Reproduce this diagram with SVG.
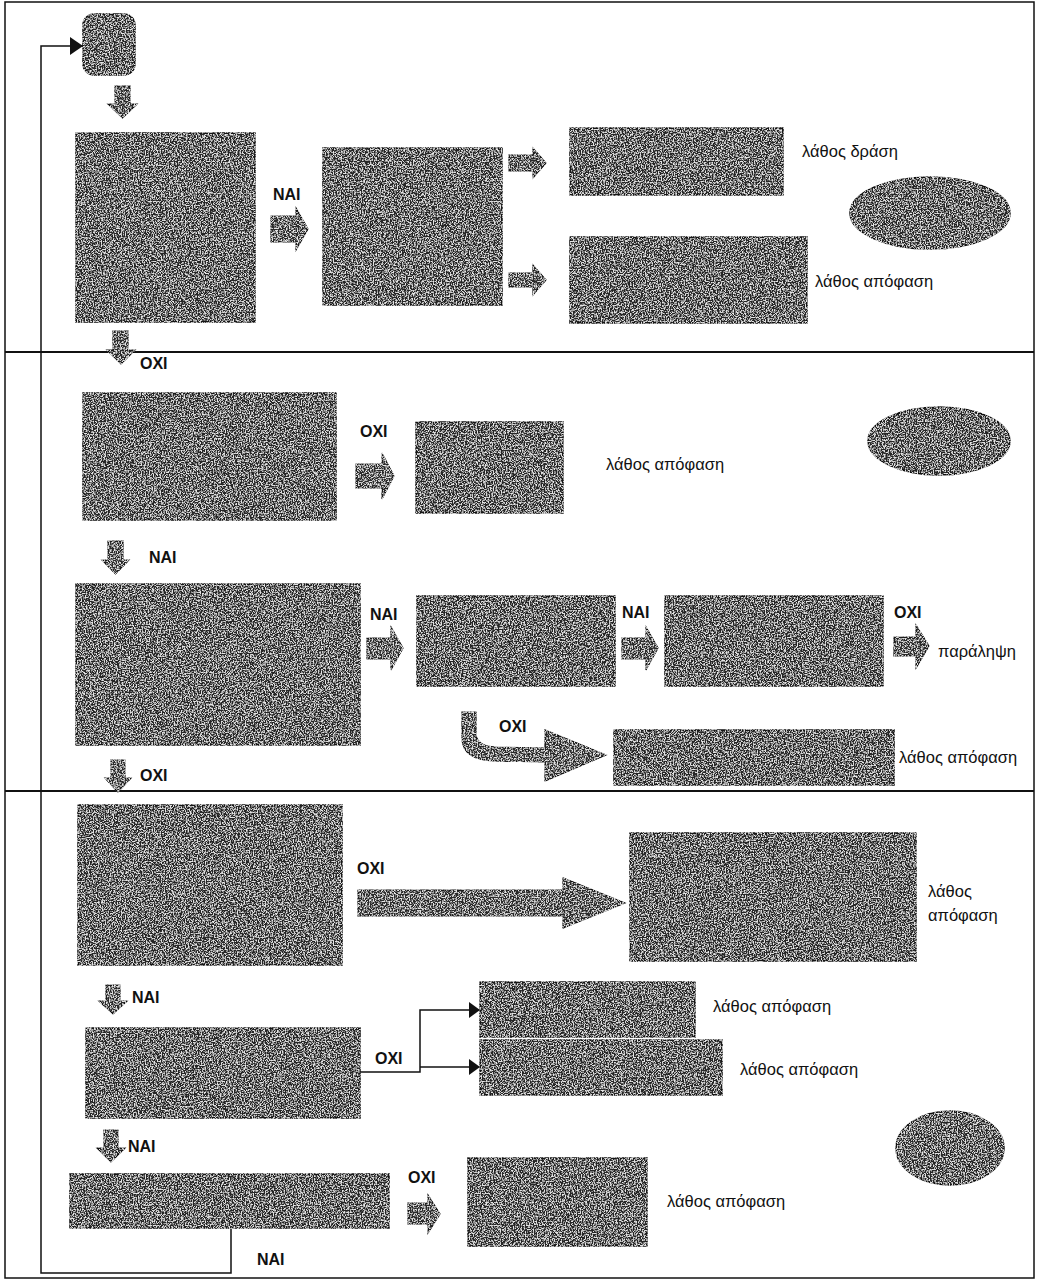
<svg xmlns="http://www.w3.org/2000/svg" width="1042" height="1282" viewBox="0 0 1042 1282">
<style>
.box{fill:#262626;stroke:#111;stroke-width:1.5;filter:url(#grain)}
.blk{fill:#2a2a2a;stroke:#111;stroke-width:1.2;filter:url(#grain)}
.lbl{font-family:"Liberation Sans",Arial,sans-serif;font-size:16.5px;fill:#111}
.yn{font-family:"Liberation Sans",Arial,sans-serif;font-size:16px;font-weight:bold;fill:#111}
.ln{fill:none;stroke:#111;stroke-width:1.5}
.div{stroke:#111;stroke-width:2}
</style>
<defs>
<filter id="grain" x="-5%" y="-5%" width="110%" height="110%">
<feTurbulence type="fractalNoise" baseFrequency="0.75" numOctaves="2" seed="4" result="t"/>
<feColorMatrix in="t" type="matrix" values="0 0 0 0 0.78  0 0 0 0 0.78  0 0 0 0 0.78  4.5 0 0 0 -2.05" result="spk"/>
<feComposite in="spk" in2="SourceAlpha" operator="in" result="spk2"/>
<feMerge><feMergeNode in="SourceGraphic"/><feMergeNode in="spk2"/></feMerge>
</filter>
<marker id="ah" markerUnits="userSpaceOnUse" markerWidth="14" markerHeight="18" refX="13" refY="9" orient="auto">
<path d="M0,0 L13,9 L0,18 Z" fill="#111"/>
</marker>
<marker id="ahs" markerUnits="userSpaceOnUse" markerWidth="12" markerHeight="16" refX="11" refY="8" orient="auto">
<path d="M0,0 L11,8 L0,16 Z" fill="#111"/>
</marker>
</defs>
<rect x="5" y="2" width="1029" height="1276" fill="#fff" stroke="#111" stroke-width="1.5"/>
<line class="div" x1="5" y1="352" x2="1034" y2="352"/>
<line class="div" x1="5" y1="791" x2="1034" y2="791"/>

<g id="connectors">
<path class="ln" d="M231,1228 V1273 H41 V46 H83" marker-end="url(#ah)"/>
<path class="ln" d="M360,1072 H420 V1010 H480" marker-end="url(#ahs)"/>
<path class="ln" d="M420,1067 H480" marker-end="url(#ahs)"/>
<path class="blk" d="M115,86 H130 V104 H137 L122.5,118 L108,104 H115 Z"/>
<path class="blk" d="M271,216 H296 V208 L308,229 L296,250 V242 H271 Z"/>
<path class="blk" d="M509,155 H533 V148 L546,163 L533,178 V171 H509 Z"/>
<path class="blk" d="M509,273 H533 V265 L546,280 L533,295 V287 H509 Z"/>
<path class="blk" d="M113,331 H128 V350 H135 L121,364 L107,350 H113 Z"/>
<path class="blk" d="M356,464 H382 V453 L394,476 L382,499 V488 H356 Z"/>
<path class="blk" d="M108,541 H123 V560 H129 L115.5,574 L102,560 H108 Z"/>
<path class="blk" d="M367,638 H391 V627 L403,648 L391,670 V659 H367 Z"/>
<path class="blk" d="M622,638 H646 V627 L658,648 L646,670 V659 H622 Z"/>
<path class="blk" d="M894,637 H916 V625 L929,646 L916,668 V656 H894 Z"/>
<path class="blk" d="M462,712 H476 V735 Q478,746 495,747 L545,748 V730 L606,755 L545,781 V762 L495,761 Q462,760 462,738 Z"/>
<path class="blk" d="M111,760 H125 V778 H131 L118,792 L105,778 H111 Z"/>
<path class="blk" d="M358,890 H563 V878 L625,903 L563,928 V916 H358 Z"/>
<path class="blk" d="M106,985 H120 V1001 H127 L113,1014 L99,1001 H106 Z"/>
<path class="blk" d="M104,1130 H118 V1148 H125 L111,1162 L97,1148 H104 Z"/>
<path class="blk" d="M408,1203 H428 V1195 L440,1214 L428,1233 V1224 H408 Z"/>
<text class="yn" x="273" y="200">NAI</text>
<text class="yn" x="140" y="369">OXI</text>
<text class="yn" x="360" y="437">OXI</text>
<text class="yn" x="149" y="563">NAI</text>
<text class="yn" x="370" y="620">NAI</text>
<text class="yn" x="622" y="618">NAI</text>
<text class="yn" x="894" y="618">OXI</text>
<text class="yn" x="499" y="732">OXI</text>
<text class="yn" x="140" y="781">OXI</text>
<text class="yn" x="357" y="874">OXI</text>
<text class="yn" x="132" y="1003">NAI</text>
<text class="yn" x="375" y="1064">OXI</text>
<text class="yn" x="128" y="1152">NAI</text>
<text class="yn" x="408" y="1183">OXI</text>
<text class="yn" x="257" y="1265">NAI</text>
</g>

<g id="n-start"><rect class="box" x="83" y="14" width="52" height="61" rx="11"/></g>
<g id="n-box1"><rect class="box" x="76" y="133" width="179" height="189"/></g>
<g id="n-box2"><rect class="box" x="323" y="148" width="179" height="157"/></g>
<g id="n-box3"><rect class="box" x="570" y="128" width="213" height="67"/><text class="lbl" x="802" y="157">λάθος δράση</text></g>
<g id="n-box4"><rect class="box" x="570" y="237" width="237" height="86"/><text class="lbl" x="815" y="287">λάθος απόφαση</text></g>
<g id="n-ell1"><ellipse class="box" cx="930" cy="213" rx="80" ry="36"/></g>

<g id="n-box5"><rect class="box" x="83" y="393" width="253" height="127"/></g>
<g id="n-box6"><rect class="box" x="416" y="422" width="147" height="91"/><text class="lbl" x="606" y="470">λάθος απόφαση</text></g>
<g id="n-ell2"><ellipse class="box" cx="939" cy="441" rx="71" ry="34"/></g>
<g id="n-box7"><rect class="box" x="76" y="584" width="284" height="161"/></g>
<g id="n-box8"><rect class="box" x="417" y="596" width="198" height="90"/></g>
<g id="n-box9"><rect class="box" x="665" y="596" width="218" height="90"/><text class="lbl" x="938" y="657">παράληψη</text></g>
<g id="n-box10"><rect class="box" x="614" y="730" width="280" height="55"/><text class="lbl" x="899" y="763">λάθος απόφαση</text></g>

<g id="n-box11"><rect class="box" x="78" y="805" width="264" height="160"/></g>
<g id="n-box12"><rect class="box" x="630" y="833" width="286" height="128"/><text class="lbl" x="928" y="897">λάθος</text><text class="lbl" x="928" y="921">απόφαση</text></g>
<g id="n-box13"><rect class="box" x="86" y="1028" width="274" height="90"/></g>
<g id="n-box14"><rect class="box" x="480" y="982" width="215" height="55"/><text class="lbl" x="713" y="1012">λάθος απόφαση</text></g>
<g id="n-box15"><rect class="box" x="480" y="1040" width="242" height="55"/><text class="lbl" x="740" y="1075">λάθος απόφαση</text></g>
<g id="n-ell3"><ellipse class="box" cx="950" cy="1148" rx="54" ry="37"/></g>
<g id="n-box16"><rect class="box" x="70" y="1174" width="319" height="54"/></g>
<g id="n-box17"><rect class="box" x="468" y="1158" width="179" height="88"/><text class="lbl" x="667" y="1207">λάθος απόφαση</text></g>
</svg>
